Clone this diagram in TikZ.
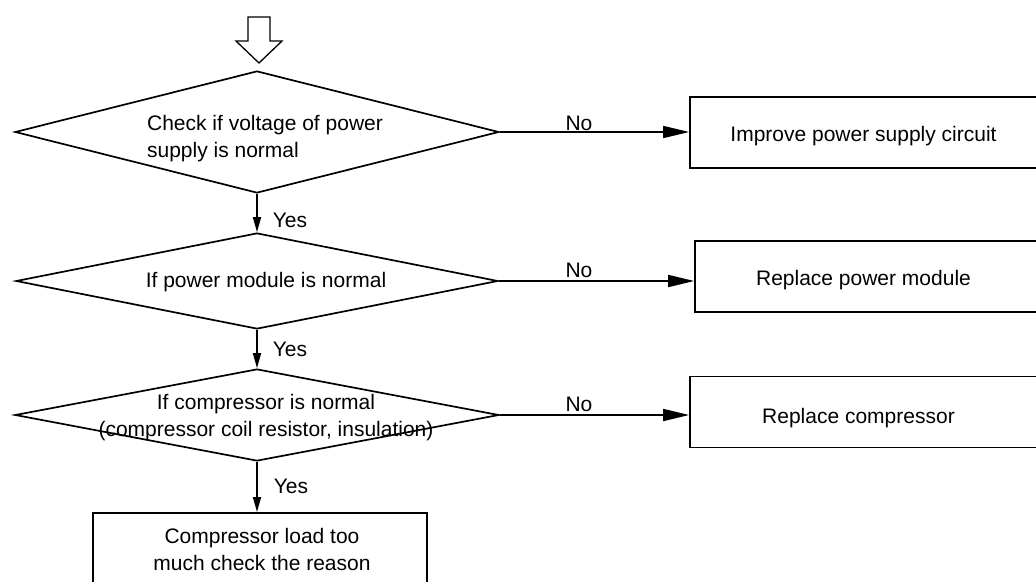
\documentclass[tikz,border=0pt]{standalone}
\usepackage{fontspec}
\setmainfont{Liberation Sans}
\usetikzlibrary{shapes.geometric,arrows.meta}
\begin{document}
\begin{tikzpicture}[x=1pt,y=-1pt,line width=1.7pt,
  decision/.style={diamond,draw,inner sep=0pt,aspect=4},
  stepbox/.style={rectangle,draw,inner sep=0pt},
  txt/.style={inner sep=0pt,font=\fontsize{21}{27}\selectfont},
  harrow/.style={-{Triangle[length=26pt,width=12pt]}},
  varrow/.style={-{Triangle[length=15pt,width=8pt]}}]
\useasboundingbox (0,0) rectangle (1036,581);
\begin{scope}
\clip (0,0) rectangle (1036,581);
% start marker
\draw[line width=1.3pt] (248,17) -- (270,17) -- (270,41) -- (282,41) -- (259,63) -- (236,41) -- (248,41) -- cycle;
% decisions
\node[decision,minimum width=484pt,minimum height=122pt] (d1) at (257,132) {};
\node[decision,minimum width=482pt,minimum height=96pt] (d2) at (257,281) {};
\node[decision,minimum width=484pt,minimum height=92pt] (d3) at (257,415) {};
% boxes
\node[stepbox,minimum width=350pt,minimum height=71pt] (b1) at (865,132.5) {};
\node[stepbox,minimum width=345pt,minimum height=71pt] (b2) at (867.5,276.5) {};
\node[stepbox,minimum width=350pt,minimum height=71pt] (b3) at (865,412) {};
\node[stepbox,minimum width=334pt,minimum height=100pt,anchor=north] (b4) at (260,512) {};
% texts
\node[txt,align=left] (t1) at (265,139) {Check if voltage of power\\supply is normal};
\node[txt,anchor=base] (t2) at (266,287) {If power module is normal};
\node[txt,align=center] (t3) at (266,418) {If compressor is normal\\(compressor coil resistor, insulation)};
\node[txt,align=center] (t4) at (262,549) {Compressor load too\\much check the reason};
\node[txt,anchor=base] (t5) at (863.5,141.7) {Improve power supply circuit};
\node[txt,anchor=base] (t6) at (863.5,285) {Replace power module};
\node[txt,anchor=base] (t7) at (858.5,423) {Replace compressor};
% connectors
\draw[varrow] (d1.south) -- (d1.south |- d2.north);
\draw[varrow] (d2.south) -- (d2.south |- d3.north);
\draw[varrow] (d3.south) -- (d3.south |- b4.north);
\draw[harrow] (d1.east) -- (d1.east -| b1.west);
\draw[harrow] (d2.east) -- (d2.east -| b2.west);
\draw[harrow] (d3.east) -- (d3.east -| b3.west);
% labels
\node[txt,anchor=base west] (y1) at (272,227) {Yes};
\node[txt,anchor=base west] (y2) at (272,356) {Yes};
\node[txt,anchor=base west] (y3) at (273,493) {Yes};
\node[txt,anchor=base] (n1) at (579,130.5) {No};
\node[txt,anchor=base] (n2) at (579,277) {No};
\node[txt,anchor=base] (n3) at (579,411) {No};
\end{scope}
\end{tikzpicture}
\end{document}
